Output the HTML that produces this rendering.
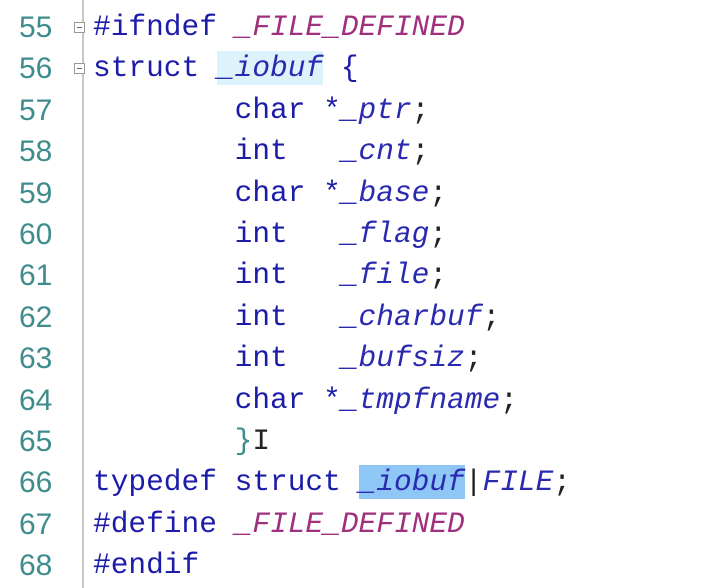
<!DOCTYPE html>
<html><head><meta charset="utf-8"><style>
body{margin:0;width:717px;height:588px;background:#fff;overflow:hidden;position:relative}
.sep{position:absolute;left:82px;top:0;width:2px;height:588px;background:#c8c8c8}
.ln{position:absolute;left:19px;font:30px "Liberation Sans",sans-serif;color:#3f8c8c;line-height:41.4px}
.c{position:absolute;left:93px;font:29.5px "Liberation Mono",monospace;color:#1c1ca8;line-height:41.4px;white-space:pre}
i{font-style:italic;color:#2a2ab0}
.m{color:#a0307e}
.p{color:#222}
.f{position:absolute;left:74px;width:9px;height:9px;border:1px solid #999;background:#fff}
.f:after{content:"";position:absolute;left:2px;top:4px;width:5px;height:1px;background:#666}
.h1{background:#ddf3fb}
.h2{background:#8ec6f6}
</style></head><body>
<div class="sep"></div>
<div class="f" style="top:22px"></div>
<div class="f" style="top:63px"></div>
<div class="ln" style="top:7px">55<br>56<br>57<br>58<br>59<br>60<br>61<br>62<br>63<br>64<br>65<br>66<br>67<br>68</div>
<div class="c" style="top:7px">#ifndef <i class="m">_FILE_DEFINED</i>
struct <i class="h1">_iobuf</i> {
        char *<i>_ptr</i><span class="p">;</span>
        int   <i>_cnt</i><span class="p">;</span>
        char *<i>_base</i><span class="p">;</span>
        int   <i>_flag</i><span class="p">;</span>
        int   <i>_file</i><span class="p">;</span>
        int   <i>_charbuf</i><span class="p">;</span>
        int   <i>_bufsiz</i><span class="p">;</span>
        char *<i>_tmpfname</i><span class="p">;</span>
        <span style="color:#3f8c8c">}</span><span class="p">I</span>
typedef struct <i class="h2">_iobuf</i><span class="p">|</span><i>FILE</i><span class="p">;</span>
#define <i class="m">_FILE_DEFINED</i>
#endif</div>
</body></html>
